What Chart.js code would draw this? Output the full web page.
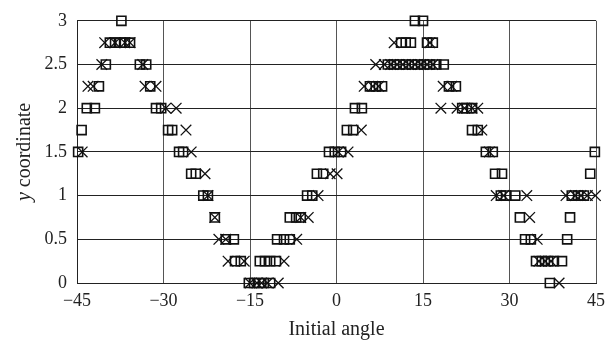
<!DOCTYPE html>
<html>
<head>
<meta charset="utf-8">
<script src="https://cdn.jsdelivr.net/npm/chart.js@4/dist/chart.umd.min.js"></script>
<style>
  html, body { margin: 0; padding: 0; background: #fff; }
  #wrap { width: 615px; height: 345px; }
</style>
</head>
<body>
<div id="wrap"><canvas id="chart" width="615" height="345"></canvas></div>
<script>
/* y levels (y coordinate) and, per level, the initial angles of each marker */
const levels = [3, 2.75, 2.5, 2.25, 2, 1.75, 1.5, 1.25, 1, 0.75, 0.5, 0.25, 0];

const squareAngles = [
  [-37.3, 13.6, 15.0],
  [-39.3, -38.4, -37.5, -36.7, -35.8, 11.2, 12.0, 12.9, 15.7, 16.7],
  [-40.0, -34.1, -33.0, 8.9, 10.0, 11.0, 12.0, 13.1, 14.1, 15.2, 16.2, 17.3, 18.6],
  [-41.2, -32.3, 5.8, 6.8, 7.9, 19.5, 20.7],
  [-43.3, -41.9, -31.3, -30.4, 3.2, 4.4, 21.8, 22.6, 23.5],
  [-44.2, -29.2, -28.5, 1.8, 2.9, 23.5, 24.5],
  [-44.8, -27.3, -26.6, -1.3, -0.3, 0.8, 25.9, 27.1, 44.8],
  [-25.2, -24.4, -3.4, -2.3, 27.5, 28.7, 44.0],
  [-23.1, -22.3, -5.1, -4.2, 28.5, 29.4, 31.0, 40.8, 41.9, 42.9],
  [-21.1, -8.1, -7.0, -6.2, 31.8, 40.5],
  [-19.2, -17.8, -10.3, -9.1, -8.1, 32.7, 33.7, 40.0],
  [-17.6, -16.6, -13.3, -12.4, -11.5, -10.5, 34.6, 35.6, 36.7, 37.7, 39.1],
  [-15.2, -14.3, -13.4, -12.6, -11.5, 37.0],
];

const crossAngles = [
  [],
  [-40.2, -38.4, -36.7, -35.8, 10.0, 16.2],
  [-40.7, -33.6, 6.8, 8.3, 9.4, 10.5, 11.5, 12.5, 13.6, 14.6, 15.7, 16.7],
  [-43.1, -42.2, -33.2, -31.3, 4.8, 6.3, 7.3, 18.5, 20.0],
  [-29.6, -27.8, 18.1, 20.9, 22.2, 23.5, 24.5],
  [-26.1, 4.3, 25.2],
  [-44.1, -25.2, 0.3, 2.0, 26.5],
  [-22.8, -1.1, 0.1],
  [-22.3, -3.2, 27.7, 29.0, 33.0, 39.8, 41.4, 42.4, 43.5, 44.9],
  [-21.1, -6.2, -4.9, 33.5],
  [-20.4, -19.2, -6.9, 34.8],
  [-18.8, -16.0, -9.1, 35.1, 36.2, 37.2],
  [-15.0, -13.8, -13.0, -12.0, -10.1, 38.6],
];

const xTicks = [-45, -30, -15, 0, 15, 30, 45];
const yTicks = [0, 0.5, 1, 1.5, 2, 2.5, 3];

const FONT = "'Liberation Serif', 'DejaVu Serif', serif";

function toPoints(angles) {
  const pts = [];
  angles.forEach((row, i) => row.forEach(a => pts.push({ x: a, y: levels[i] })));
  return pts;
}

/* ---- axis titles (y in italic) ---- */
const titlesPlugin = {
  id: 'titles',
  afterDraw(chart) {
    const { ctx, chartArea } = chart;
    ctx.save();
    ctx.fillStyle = '#222';
    ctx.textBaseline = 'alphabetic';

    ctx.font = `20px ${FONT}`;
    ctx.textAlign = 'center';
    ctx.fillText('Initial angle', (chartArea.left + chartArea.right) / 2, 335);

    const ital = `italic 20px ${FONT}`;
    const norm = `20px ${FONT}`;
    ctx.font = ital;
    const w1 = ctx.measureText('y').width;
    ctx.font = norm;
    const w2 = ctx.measureText(' coordinate').width;
    ctx.translate(30, (chartArea.top + chartArea.bottom) / 2);
    ctx.rotate(-Math.PI / 2);
    ctx.textAlign = 'left';
    const x0 = -(w1 + w2) / 2;
    ctx.font = ital;
    ctx.fillText('y', x0, 0);
    ctx.font = norm;
    ctx.fillText(' coordinate', x0 + w1, 0);
    ctx.restore();
  },
};

new Chart(document.getElementById('chart'), {
  type: 'scatter',
  data: {
    datasets: [
      {
        label: 'squares',
        data: toPoints(squareAngles),
        pointStyle: 'rect',
        pointRadius: 6.4,
        borderColor: '#111',
        backgroundColor: 'rgba(0,0,0,0)',
        borderWidth: 1.6,
        clip: false,
      },
      {
        label: 'crosses',
        data: toPoints(crossAngles),
        pointStyle: 'crossRot',
        pointRadius: 7.5,
        borderColor: '#111',
        backgroundColor: 'rgba(0,0,0,0)',
        borderWidth: 1.3,
        clip: false,
      },
    ],
  },
  options: {
    responsive: false,
    animation: false,
    events: [],
    layout: { padding: { left: 0, right: 19, top: 14, bottom: 0 } },
    plugins: { legend: { display: false }, tooltip: { enabled: false } },
    scales: {
      x: {
        type: 'linear',
        min: xTicks[0],
        max: xTicks[xTicks.length - 1],
        afterBuildTicks: s => { s.ticks = xTicks.map(v => ({ value: v })); },
        afterFit: s => { s.height = 62; },
        grid: { color: '#555', lineWidth: 1, drawTicks: false },
        border: { color: '#222', width: 1 },
        ticks: {
          padding: 7,
          color: '#222',
          font: { family: FONT, size: 18 },
          maxRotation: 0,
          callback: v => (v < 0 ? '\u2212' + Math.abs(v) : String(v)),
        },
      },
      y: {
        type: 'linear',
        min: yTicks[0],
        max: yTicks[yTicks.length - 1],
        afterBuildTicks: s => { s.ticks = yTicks.map(v => ({ value: v })); },
        afterFit: s => { s.width = 77; },
        grid: { color: '#222', lineWidth: 1, drawTicks: false },
        border: { color: '#222', width: 1 },
        ticks: {
          padding: 10,
          color: '#222',
          font: { family: FONT, size: 18 },
          callback: v => String(v),
        },
      },
    },
  },
  plugins: [titlesPlugin],
});
</script>
</body>
</html>
